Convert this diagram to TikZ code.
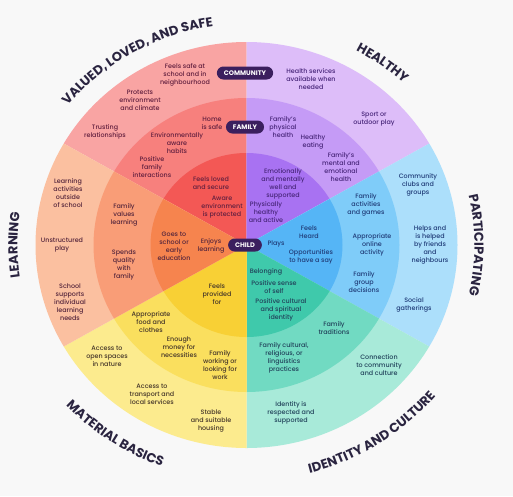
\documentclass[tikz,border=0pt]{standalone}
\usepackage{fontspec}
\setmainfont{Poppins}[UprightFont={* Medium},BoldFont={* Bold}]
\usetikzlibrary{decorations.text}

\definecolor{bgc}{HTML}{F8F8F8}
\definecolor{pillc}{HTML}{3B1F5E}
\definecolor{headc}{HTML}{2A2440}
% ring colours: outer / family / child
\definecolor{valA}{HTML}{F9A4A3}\definecolor{valB}{HTML}{F7807D}\definecolor{valC}{HTML}{F35855}
\definecolor{heaA}{HTML}{DDBDF9}\definecolor{heaB}{HTML}{C59BF6}\definecolor{heaC}{HTML}{A872F2}
\definecolor{parA}{HTML}{ACDFFB}\definecolor{parB}{HTML}{7FCCF9}\definecolor{parC}{HTML}{55B5F6}
\definecolor{ideA}{HTML}{A8EAD9}\definecolor{ideB}{HTML}{71DAC2}\definecolor{ideC}{HTML}{3FC9AB}
\definecolor{matA}{HTML}{FCEB8E}\definecolor{matB}{HTML}{FADF5E}\definecolor{matC}{HTML}{F8D035}
\definecolor{leaA}{HTML}{FBC0A0}\definecolor{leaB}{HTML}{F99D77}\definecolor{leaC}{HTML}{F6844E}
% text colours
\definecolor{valT}{HTML}{62203F}
\definecolor{heaT}{HTML}{48267A}
\definecolor{parT}{HTML}{203C78}
\definecolor{ideT}{HTML}{21425A}
\definecolor{matT}{HTML}{453629}
\definecolor{leaT}{HTML}{55263C}

\newcommand{\bodyfont}{\fontsize{6.4}{7.9}\selectfont}
\newcommand{\pillfont}{\fontsize{6.6}{7.5}\selectfont\bfseries}
\newcommand{\headfont}{\fontsize{13}{15}\selectfont\bfseries}

\begin{document}
\begin{tikzpicture}[x=1pt,y=1pt,inner sep=0pt,
	txt/.style={align=center,font=\bodyfont},
	val/.style={txt,text=valT},
	hea/.style={txt,text=heaT},
	par/.style={txt,text=parT},
	ide/.style={txt,text=ideT},
	mat/.style={txt,text=matT},
	lea/.style={txt,text=leaT},
	pill/.style={fill=pillc,text=white,font=\pillfont,rounded corners=6.5pt,minimum height=13pt,inner xsep=7pt},
	heading/.style={decorate,decoration={text along path,text align=center,text color=headc}}]

	\fill[bgc] (0,0) rectangle (513,-496);
	\useasboundingbox (0,0) rectangle (513,-496);
	\coordinate (O) at (246.5,-245);

	\begin{scope}[shift={(O)}]
		\foreach \s/\ca/\cb/\cc in {90/valA/valB/valC, 30/heaA/heaB/heaC, -30/parA/parB/parC,
			270/ideA/ideB/ideC, 210/matA/matB/matC, 150/leaA/leaB/leaC}{
			\pgfmathsetmacro{\e}{\s+60}
			\fill[\ca] (0,0) -- (\s:211pt and 203pt) arc[start angle=\s,end angle=\e,x radius=211pt,y radius=203pt] -- cycle;
			\fill[\cb] (0,0) -- (\s:153pt and 147pt) arc[start angle=\s,end angle=\e,x radius=153pt,y radius=147pt] -- cycle;
			\fill[\cc] (0,0) -- (\s:96pt and 92pt) arc[start angle=\s,end angle=\e,x radius=96pt,y radius=92pt] -- cycle;
		}

		% headings round the wheel
		\path[heading,decoration={text={|\headfont|VALUED, LOVED, AND SAFE}}]
			(165:230pt and 221pt) arc[start angle=165,end angle=75,x radius=230pt,y radius=221pt];
		\path[heading,decoration={text={|\headfont|HEALTHY}}]
			(84:230pt and 221pt) arc[start angle=84,end angle=24,x radius=230pt,y radius=221pt];
		\path[heading,decoration={text={|\headfont|PARTICIPATING}}]
			(40:228pt and 220pt) arc[start angle=40,end angle=-40,x radius=228pt,y radius=220pt];
		\path[heading,decoration={text={|\headfont|IDENTITY AND CULTURE}}]
			(258:246pt and 236pt) arc[start angle=258,end angle=348,x radius=246pt,y radius=236pt];
		\path[heading,decoration={text={|\headfont|MATERIAL BASICS}}]
			(201:246pt and 236pt) arc[start angle=201,end angle=271,x radius=246pt,y radius=236pt];
		\path[heading,decoration={text={|\headfont|LEARNING}}]
			(215:229pt and 221pt) arc[start angle=215,end angle=145,x radius=229pt,y radius=221pt];
	\end{scope}

	% valued, loved and safe
	\node[val] (vsafe) at (185,-75) {Feels safe at\\school and in\\neighbourhood};
	\node[val] (vprot) at (140,-100) {Protects\\environment\\and climate};
	\node[val] (vtrust) at (105,-132) {Trusting\\relationships};
	\node[val] (vhome) at (212,-123) {Home\\is safe};
	\node[val] (venv) at (177,-143) {Environmentally\\aware\\habits};
	\node[val] (vposi) at (152,-167) {Positive\\family\\interactions};
	\node[val] (vlove) at (211,-183) {Feels loved\\and secure};
	\node[val] (vaware) at (222,-207) {Aware\\environment\\is protected};

	% healthy
	\node[hea] (hserv) at (311,-79) {Health services\\available when\\needed};
	\node[hea] (hsport) at (374,-119) {Sport or\\outdoor play};
	\node[hea] (hphys) at (283,-127) {Family's\\physical\\health};
	\node[hea] (heat) at (313,-142) {Healthy\\eating};
	\node[hea] (hment) at (341,-167) {Family's\\mental and\\emotional\\health};
	\node[hea] (hemo) at (283,-184) {Emotionally\\and mentally\\well and\\supported};
	\node[hea] (hact) at (266,-212) {Physically\\healthy\\and active};

	% participating
	\node[par] (pclub) at (418,-185) {Community\\clubs and\\groups};
	\node[par] (phelp) at (430,-245) {Helps and\\is helped\\by friends\\and\\neighbours};
	\node[par] (psoc) at (414,-305) {Social\\gatherings};
	\node[par] (pgame) at (366,-205) {Family\\activities\\and games};
	\node[par] (ponl) at (372,-245) {Appropriate\\online\\activity};
	\node[par] (pdec) at (364,-282) {Family\\group\\decisions};
	\node[par] (pheard) at (309,-232) {Feels\\Heard};
	\node[par] (pplay) at (276,-244) {Plays};
	\node[par] (psay) at (311,-257) {Opportunities\\to have a say};

	% identity and culture
	\node[ide] (ibel) at (266,-272) {Belonging};
	\node[ide] (iself) at (274,-287) {Positive sense\\of self};
	\node[ide] (ispir) at (281,-310) {Positive cultural\\and spiritual\\identity};
	\node[ide] (itrad) at (334,-328) {Family\\traditions};
	\node[ide] (iprac) at (284,-358) {Family cultural,\\religious, or\\linguistics\\practices};
	\node[ide] (iconn) at (379,-365) {Connection\\to community\\and culture};
	\node[ide] (iresp) at (291,-413) {Identity is\\respected and\\supported};

	% material basics
	\node[mat] (mfeel) at (217,-294) {Feels\\provided\\for};
	\node[mat] (mfood) at (151,-322) {Appropriate\\food and\\clothes};
	\node[mat] (mmon) at (179,-347) {Enough\\money for\\necessities};
	\node[mat] (mwork) at (220,-365) {Family\\working or\\looking for\\work};
	\node[mat] (mopen) at (107,-356) {Access to\\open spaces\\in nature};
	\node[mat] (mtrans) at (152,-394) {Access to\\transport and\\local services};
	\node[mat] (mhouse) at (211,-421) {Stable\\and suitable\\housing};

	% learning
	\node[lea] (lout) at (68,-193) {Learning\\activities\\outside\\of school};
	\node[lea] (lplay) at (62,-245) {Unstructured\\play};
	\node[lea] (lsup) at (70,-302) {School\\supports\\individual\\learning\\needs};
	\node[lea] (lval) at (124,-215) {Family\\values\\learning};
	\node[lea] (lqual) at (124,-265) {Spends\\quality\\with\\family};
	\node[lea] (lgoes) at (174,-246) {Goes to\\school or\\early\\education};
	\node[lea] (lenj) at (211,-246) {Enjoys\\learning};

	% ring labels
	\node[pill] (community) at (245,-73) {COMMUNITY};
	\node[pill] (family) at (245,-127) {FAMILY};
	\node[pill] (child) at (245,-245) {CHILD};

\end{tikzpicture}
\end{document}
